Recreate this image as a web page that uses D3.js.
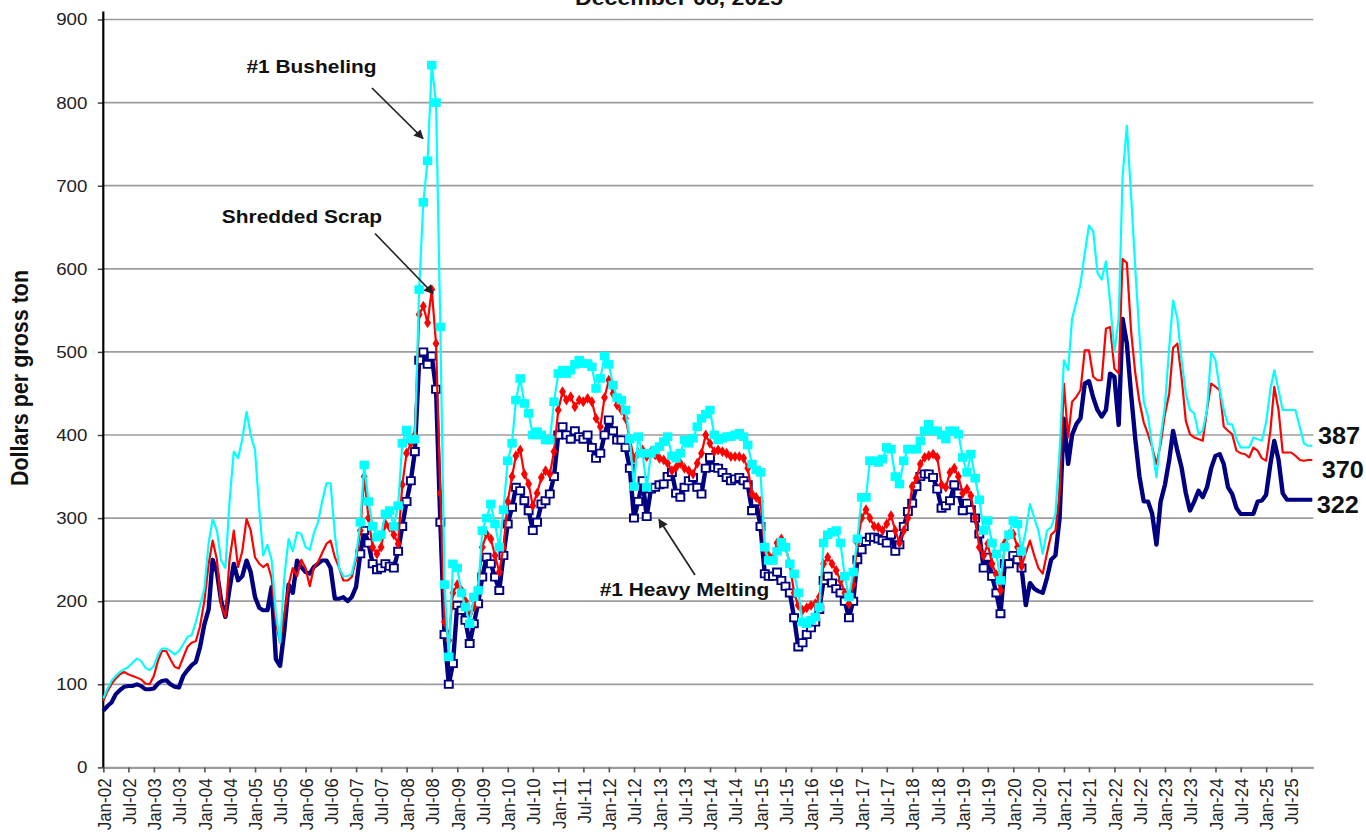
<!DOCTYPE html>
<html>
<head>
<meta charset="utf-8">
<script src="https://cdn.jsdelivr.net/npm/d3@7"></script>
<style>
  html, body { margin: 0; padding: 0; background: #fff; }
  svg { display: block; }
  text { font-family: "Liberation Sans", Arial, sans-serif; }
</style>
</head>
<body>
<svg id="chart"></svg>
<script>
// monthly prices, dollars per gross ton, Jan 2002 .. Dec 2025
let first_month = [2002, 0];

let heavy_melting = [
  68, 74, 78, 88, 93, 97, 98, 98, 100, 98, 94, 94,
  95, 101, 104, 105, 100, 97, 96, 110, 117, 123, 127, 145,
  172, 190, 250, 235, 201, 181, 215, 245, 225, 230, 249, 235,
  205, 192, 189, 189, 217, 130, 122, 165, 220, 210, 249, 241,
  235, 233, 241, 245, 249, 249, 240, 203, 203, 205, 200, 205,
  217, 257, 285, 270, 245, 238, 240, 245, 242, 240, 260, 290,
  320, 345, 380, 490, 500, 485, 495, 455, 295, 160, 100, 125,
  195, 189, 177, 149, 173, 197, 229, 253, 245, 229, 213, 255,
  293, 313, 337, 333, 321, 309, 285, 295, 317, 321, 329, 350,
  400, 410, 400, 395, 405, 398, 395, 400, 385, 372, 378, 400,
  418, 405, 394, 394, 385, 360, 300, 320, 345, 302, 335, 337,
  340, 341, 350, 355, 330, 325, 337, 345, 349, 337, 329, 360,
  373, 361, 360, 355, 349, 345, 347, 349, 345, 340, 309, 320,
  290, 233, 230, 230, 235, 225, 218, 210, 180, 145, 150, 160,
  168, 175, 190, 225, 230, 222, 215, 210, 200, 180, 200, 250,
  262, 272, 277, 277, 275, 273, 270, 280, 260, 268, 290, 308,
  318, 338, 350, 353, 353, 349, 335, 312, 315, 321, 340, 330,
  309, 318, 310, 300, 281, 240, 253, 230, 210, 185, 245, 245,
  255, 250, 240, 195, 222, 215, 212, 210, 228, 250, 255, 300,
  420, 365, 400, 413, 420, 462, 465, 445, 430, 422, 430, 474,
  470, 412, 540, 510, 450, 395, 350, 320, 320, 305, 268, 320,
  340, 370, 405, 381, 361, 330, 309, 320, 333, 325, 337, 360,
  375, 377, 365, 337, 329, 312, 305, 305, 305, 305, 320, 321,
  328, 365, 393, 370, 330, 322, 322, 322, 322, 322, 322, 322
];

let shredded = [
  80, 92, 100, 107, 112, 115, 112, 110, 108, 106, 101, 100,
  110, 129, 140, 140, 130, 121, 119, 132, 145, 150, 152, 170,
  200, 245, 273, 250, 195, 181, 250, 285, 241, 260, 299, 285,
  253, 245, 241, 245, 228, 175, 150, 185, 220, 240, 230, 250,
  240, 218, 240, 247, 258, 269, 273, 253, 240, 225, 225, 229,
  250, 285, 350, 300, 265, 257, 265, 293, 289, 280, 269, 340,
  378, 390, 400, 545, 555, 535, 575, 510, 330, 175, 153, 210,
  220, 213, 200, 185, 193, 215, 265, 281, 275, 255, 235, 265,
  320, 350, 375, 382, 353, 341, 315, 330, 349, 357, 353, 380,
  430, 452, 442, 446, 434, 442, 440, 444, 440, 420, 410, 445,
  466, 450, 436, 430, 420, 395, 372, 378, 382, 374, 380, 376,
  372, 370, 366, 357, 361, 366, 360, 357, 353, 366, 378, 400,
  390, 380, 382, 380, 378, 374, 374, 374, 372, 360, 329, 325,
  320, 262, 255, 253, 270, 275, 265, 245, 210, 195, 189, 192,
  195, 197, 205, 245, 253, 245, 237, 225, 210, 197, 220, 270,
  300, 310, 300, 290, 289, 285, 293, 303, 285, 270, 285, 300,
  338, 348, 365, 373, 375, 377, 373, 340, 337, 355, 360, 350,
  330, 335, 327, 300, 265, 255, 269, 245, 232, 213, 270, 280,
  281, 265, 242, 258, 273, 255, 240, 233, 258, 280, 285, 330,
  462, 397, 440, 446, 454, 502, 502, 470, 466, 466, 528, 530,
  480, 474, 612, 607, 526, 474, 440, 415, 401, 385, 365, 389,
  425, 450, 505, 510, 470, 417, 401, 397, 395, 393, 430, 462,
  458, 454, 410, 405, 401, 381, 378, 377, 373, 385, 381, 372,
  369, 405, 458, 430, 379, 379, 379, 375, 370, 369, 370, 370
];

let busheling = [
  83, 95, 104, 110, 115, 118, 121, 126, 131, 128, 120, 117,
  122, 136, 143, 143, 140, 136, 140, 148, 157, 159, 175, 195,
  215, 270, 299, 285, 249, 240, 320, 380, 372, 395, 428, 400,
  382, 310, 255, 268, 250, 185, 150, 230, 275, 260, 283, 281,
  265, 262, 281, 295, 320, 342, 342, 280, 240, 230, 230, 233,
  255, 295, 364, 320, 290, 277, 280, 305, 309, 290, 315, 390,
  406, 395, 395, 575, 680, 730, 845, 800, 530, 220, 133, 245,
  240, 210, 193, 173, 205, 213, 285, 300, 317, 293, 265, 310,
  369, 390, 442, 468, 438, 426, 400, 404, 400, 394, 394, 440,
  474, 478, 474, 478, 485, 490, 486, 486, 482, 456, 468, 495,
  485, 460, 445, 442, 430, 395, 338, 398, 378, 337, 378, 382,
  386, 392, 398, 375, 372, 378, 394, 390, 396, 410, 420, 425,
  430, 400, 394, 396, 398, 398, 400, 402, 398, 388, 365, 358,
  355, 265, 249, 249, 260, 271, 265, 245, 233, 210, 175, 173,
  177, 181, 193, 270, 280, 283, 285, 270, 230, 205, 235, 275,
  325, 325, 369, 369, 367, 371, 385, 383, 350, 341, 369, 383,
  383, 383, 393, 405, 413, 405, 405, 400, 395, 405, 405, 401,
  373, 355, 377, 348, 322, 285, 297, 270, 257, 225, 265, 280,
  297, 293, 260, 285, 317, 300, 285, 257, 285, 289, 305, 380,
  490, 478, 540, 560, 582, 619, 652, 645, 595, 587, 609, 560,
  500, 540, 711, 772, 690, 600, 520, 440, 422, 385, 349, 397,
  435, 505, 562, 540, 490, 450, 430, 426, 401, 405, 430, 500,
  490, 455, 430, 413, 413, 395, 385, 385, 385, 397, 395, 393,
  415, 455, 478, 454, 430, 430, 430, 430, 410, 390, 387, 387
];

let y_ticks = [0, 100, 200, 300, 400, 500, 600, 700, 800, 900];
let series_names = ["#1 Heavy Melting", "Shredded Scrap", "#1 Busheling"];
let end_labels = ["322", "370", "387"];
let chart_title = "December 08, 2025";
let y_title = "Dollars per gross ton";
// markers were only drawn for Feb 2007 .. Mar 2020
let marker_first = 61, marker_last = 218;

// the source picture is wider than tall, stretch x a bit
const sx = 1.1;
const vw = 1366 / sx;

var svg = d3.select("#chart")
  .attr("width", 1366)
  .attr("height", 835)
  .attr("viewBox", "0 0 " + vw + " 835")
  .attr("preserveAspectRatio", "none");

let months = heavy_melting.map((d, i) => new Date(Date.UTC(first_month[0], first_month[1] + i, 1)));

var x_axis = d3.scaleUtc()
  .domain([new Date(Date.UTC(2002, 0, 1)), new Date(Date.UTC(2025, 11, 8))])
  .range([103.3 / sx, 1313.3 / sx]);
var y_axis = d3.scaleLinear().domain([0, 900]).range([767.4, 19.5]);

let x0 = x_axis.range()[0], x1 = x_axis.range()[1];

// title, mostly off the top edge like the source
svg.append("text")
  .attr("x", 679 / sx).attr("y", 5)
  .attr("text-anchor", "middle")
  .attr("font-size", 21).attr("font-weight", "bold").attr("fill", "#111")
  .text(chart_title);

// grid
svg.append("g").selectAll("line")
  .data(y_ticks.filter(d => d > 0))
  .enter().append("line")
    .attr("x1", x0).attr("x2", x1)
    .attr("y1", d => y_axis(d)).attr("y2", d => y_axis(d))
    .attr("stroke", "#9c9c9c").attr("stroke-width", 1.7);

// x axis
var gx = svg.append("g")
  .attr("transform", "translate(0," + y_axis(0) + ")")
  .call(d3.axisBottom(x_axis)
    .ticks(d3.utcMonth.every(6))
    .tickFormat(d3.utcFormat("%b-%y"))
    .tickSize(5).tickSizeOuter(0));
gx.select(".domain").attr("stroke", "#9c9c9c").attr("stroke-width", 2.2);
gx.selectAll(".tick line").attr("stroke", "#555").attr("stroke-width", 1.5);
gx.selectAll(".tick text")
  .attr("transform", "rotate(-90)")
  .attr("text-anchor", "end")
  .attr("x", -11).attr("y", 0).attr("dy", "0.36em")
  .attr("font-size", 17).attr("fill", "#222")
  .attr("font-family", "'Liberation Sans', Arial, sans-serif");

// y axis
var gy = svg.append("g")
  .attr("transform", "translate(" + x0 + ",0)")
  .call(d3.axisLeft(y_axis).tickValues(y_ticks).tickSize(5).tickPadding(9.5).tickSizeOuter(0));
gy.select(".domain").remove();
gy.selectAll(".tick line").attr("stroke", "#444").attr("stroke-width", 1.5);
gy.selectAll(".tick text")
  .attr("font-size", 17).attr("fill", "#222")
  .attr("font-family", "'Liberation Sans', Arial, sans-serif");
svg.append("line")
  .attr("x1", x0).attr("x2", x0)
  .attr("y1", 11.5).attr("y2", y_axis(0))
  .attr("stroke", "#000").attr("stroke-width", 2);

svg.append("text")
  .attr("transform", "translate(" + (28 / sx) + ",378) rotate(-90)")
  .attr("text-anchor", "middle")
  .attr("font-size", 21.5).attr("font-weight", "bold").attr("fill", "#111")
  .text(y_title);

// series
let series = [
  {values: heavy_melting, color: "#000080", width: 4},
  {values: shredded, color: "#ff0000", width: 2},
  {values: busheling, color: "#00ffff", width: 2}
];

let line = d3.line()
  .x(d => x_axis(d[0]))
  .y(d => y_axis(d[1]));

let symbols = [
  d3.symbol().type(d3.symbolSquare).size(52),
  d3.symbol().type(d3.symbolDiamond).size(34),
  d3.symbol().type(d3.symbolSquare).size(74)
];

series.forEach(function(s, k) {
  let pts = s.values.map((v, i) => [months[i], v, i]);
  let g = svg.append("g").attr("class", "series");
  g.append("path")
    .attr("d", line(pts))
    .attr("fill", "none")
    .attr("stroke", s.color)
    .attr("stroke-width", s.width)
    .attr("stroke-linejoin", "round");

  g.selectAll("path.mark")
    .data(pts.filter(p => p[2] >= marker_first && p[2] <= marker_last))
    .enter().append("path")
      .attr("class", "mark")
      .attr("transform", p => "translate(" + x_axis(p[0]) + "," + y_axis(p[1]) + ")")
      .attr("d", symbols[k]())
      .attr("fill", k == 0 ? "#fff" : s.color)
      .attr("stroke", k == 0 ? s.color : "none")
      .attr("stroke-width", k == 0 ? 1.8 : 0);
});

// end-of-series values
let end_y = [513.5, 478.5, 444.5];
let end_x = [1316.7, 1321.7, 1318];
svg.append("g").selectAll("text")
  .data(end_labels)
  .enter().append("text")
    .attr("x", (d, i) => end_x[i] / sx)
    .attr("y", (d, i) => end_y[i])
    .attr("font-size", 23).attr("font-weight", "bold").attr("fill", "#111")
    .text(d => d);

// annotations with arrows
svg.append("defs").append("marker")
  .attr("id", "arrow")
  .attr("viewBox", "0 0 10 10")
  .attr("refX", 9).attr("refY", 5)
  .attr("markerWidth", 11).attr("markerHeight", 9)
  .attr("markerUnits", "userSpaceOnUse")
  .attr("orient", "auto")
  .append("path")
    .attr("d", "M0,0L10,5L0,10z")
    .attr("fill", "#222");

let notes = [
  {text: series_names[2], tx: 311.5, ty: 73, ax: [372, 88], bx: [423, 138.5]},
  {text: series_names[1], tx: 302, ty: 223, ax: [375, 233.5], bx: [433, 293.5]},
  {text: series_names[0], tx: 684.5, ty: 596.5, ax: [695, 575], bx: [659, 519.5]}
];

notes.forEach(function(n) {
  svg.append("text")
    .attr("x", n.tx / sx).attr("y", n.ty)
    .attr("text-anchor", "middle")
    .attr("font-size", 19).attr("font-weight", "bold").attr("fill", "#111")
    .text(n.text);
  svg.append("line")
    .attr("x1", n.ax[0] / sx).attr("y1", n.ax[1])
    .attr("x2", n.bx[0] / sx).attr("y2", n.bx[1])
    .attr("stroke", "#222").attr("stroke-width", 1.5)
    .attr("marker-end", "url(#arrow)");
});
</script>
</body>
</html>
